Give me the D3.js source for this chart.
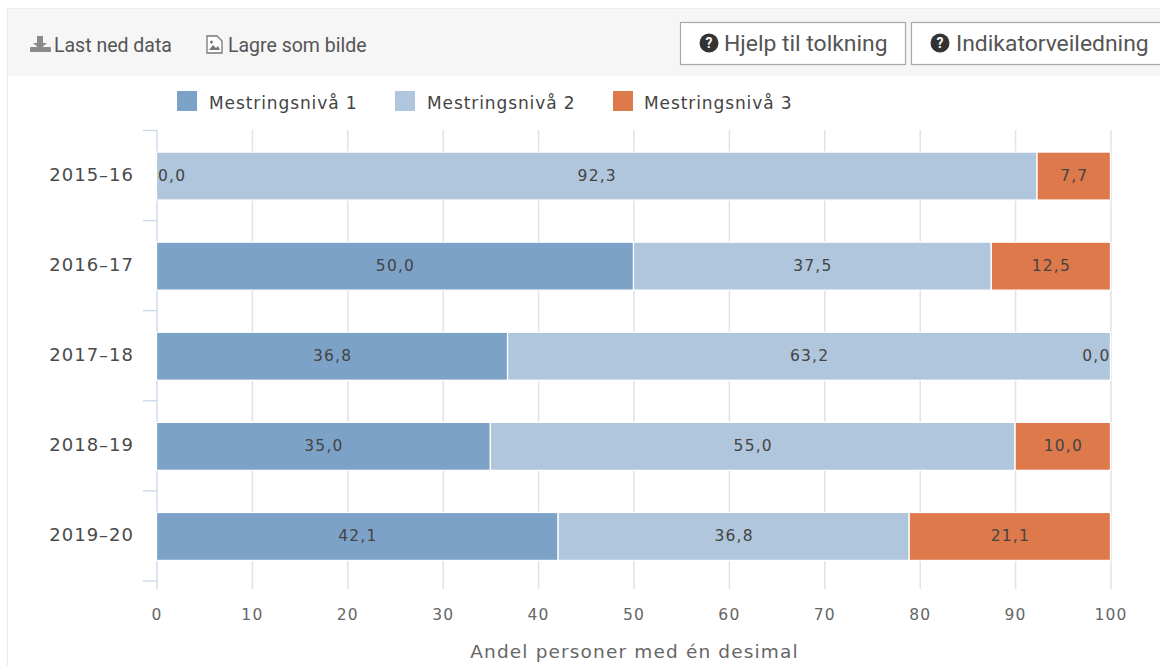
<!DOCTYPE html>
<html><head><meta charset="utf-8">
<script src="https://cdn.jsdelivr.net/npm/d3@7/dist/d3.min.js"></script>
<style>html,body{margin:0;padding:0;background:#fff;overflow:hidden}svg{display:block}</style>
</head><body><svg id="c" width="1160" height="666"></svg>
<script>
const categories = ["2015-16","2016-17","2017-18","2018-19","2019-20"];
const seriesNames = ["Mestringsnivå 1","Mestringsnivå 2","Mestringsnivå 3"];
const level1 = [0.0,50.0,36.8,35.0,42.1];
const level2 = [92.3,37.5,63.2,55.0,36.8];
const level3 = [7.7,12.5,0.0,10.0,21.1];
const colors = ["#7da2c8","#afc6dc","#dd794b"];
const xTicks = [0,10,20,30,40,50,60,70,80,90,100];
const xTitle = "Andel personer med én desimal";
const toolbarLeft = ["Last ned data","Lagre som bilde"];
const toolbarRight = ["Hjelp til tolkning","Indikatorveiledning"];

const svg = d3.select("#c");
const chartFont = "'DejaVu Sans',sans-serif", uiFont = "Roboto,sans-serif";

// panel frame and toolbar
svg.append("rect").attr("x",7).attr("y",9).attr("width",1153).attr("height",67).attr("fill","#f6f6f6");
svg.append("path").attr("d","M7.5,666V8.5H1160").attr("fill","none").attr("stroke","#ececec");

// download icon
const dl = svg.append("g").attr("transform","translate(30,36)").attr("fill","#8a8a8a");
dl.append("path").attr("d","M7,0h6v7h4l-7,6l-7,-6h4z");
dl.append("rect").attr("x",0).attr("y",11).attr("width",21).attr("height",5).attr("rx",1);
// image icon
const im = svg.append("g").attr("transform","translate(206,35)");
im.append("path").attr("d","M1,1H11L16,6V18H1Z").attr("fill","#fff").attr("stroke","#777").attr("stroke-width",1.3);
im.append("path").attr("d","M3,15L7,10L10,13L12,11L14,15Z").attr("fill","#777");
im.append("circle").attr("cx",5.5).attr("cy",7).attr("r",1.5).attr("fill","#777");

svg.append("text").attr("x",54).attr("y",52).text(toolbarLeft[0]);
svg.append("text").attr("x",228).attr("y",52).text(toolbarLeft[1]);
svg.selectAll("text").attr("font-family",uiFont).attr("font-size",19.5).attr("fill","#555");

// buttons
const btns = [{x:680,w:225,tx:724,ix:709},{x:911,w:260,tx:956,ix:940}];
btns.forEach((b,i)=>{
  svg.append("rect").attr("x",b.x+.5).attr("y",22.5).attr("width",b.w).attr("height",42).attr("fill","#fff").attr("stroke","#a8a8a8").attr("stroke-width",1.2);
  svg.append("circle").attr("cx",b.ix).attr("cy",43).attr("r",9.5).attr("fill","#333");
  svg.append("text").attr("x",b.ix).attr("y",48).attr("text-anchor","middle").attr("font-family",uiFont).attr("font-weight",700).attr("font-size",14).attr("fill","#f6f6f6").text("?");
  svg.append("text").attr("x",b.tx).attr("y",51).attr("font-family",uiFont).attr("font-size",22.9).attr("fill","#555").text(toolbarRight[i]);
});

// scales
const x = d3.scaleLinear().domain([0,100]).range([157,1111]);
const y = d3.scaleBand().domain(categories).range([130.5,581]);

// grid
svg.append("g").selectAll("line").data(xTicks.slice(1)).join("line")
  .attr("x1",d=>x(d)).attr("x2",d=>x(d)).attr("y1",130).attr("y2",589)
  .attr("stroke","#e2e2e2").attr("stroke-width",1.5);

// y axis
const yAxis = svg.append("g");
yAxis.append("line").attr("x1",157).attr("x2",157).attr("y1",130).attr("y2",589).attr("stroke","#ccd6eb").attr("stroke-width",1.3);
yAxis.selectAll(".t").data(d3.range(categories.length+1)).join("line")
  .attr("x1",143).attr("x2",157)
  .attr("y1",i=>y.range()[0]+i*y.step()).attr("y2",i=>y.range()[0]+i*y.step())
  .attr("stroke","#ccd6eb").attr("stroke-width",1.3);
svg.append("g").selectAll("text").data(categories).join("text")
  .attr("x",134).attr("y",d=>y(d)+y.bandwidth()/2+5.5).attr("text-anchor","end")
  .attr("font-family",chartFont).attr("font-size",18).attr("letter-spacing",1).attr("fill","#4a4a4a")
  .text(d=>d.replace("-","–"));

// stacked bars
const rows = categories.map((c,i)=>({cat:c,s0:level1[i],s1:level2[i],s2:level3[i]}));
const stack = d3.stack().keys(["s0","s1","s2"])(rows);
const barH = 48;
const fmt = v=>v.toFixed(1).replace(".",",");
stack.forEach((layer,k)=>{
  svg.append("g").selectAll("rect").data(layer).join("rect")
    .attr("x",d=>x(d[0])-.5).attr("width",d=>x(d[1])-x(d[0]))
    .attr("y",d=>y(d.data.cat)+y.bandwidth()/2-barH/2+.5).attr("height",barH)
    .attr("fill",colors[k]).attr("stroke","#fff").attr("stroke-width",1.3)
    .attr("display",d=>d[1]>d[0]?null:"none");
});
stack.forEach((layer,k)=>{
  svg.append("g").selectAll("text").data(layer).join("text")
    .attr("x",d=>{
      const v=d[1]-d[0];
      if(v===0) return k===0?x(d[0])+1:x(d[1])-.5;
      return x((d[0]+d[1])/2);
    })
    .attr("text-anchor",d=>{
      const v=d[1]-d[0];
      return v===0?(k===0?"start":"end"):"middle";
    })
    .attr("y",d=>y(d.data.cat)+y.bandwidth()/2+5)
    .attr("font-family",chartFont).attr("font-size",15.5).attr("letter-spacing",1.2).attr("fill","#444")
    .text(d=>fmt(d[1]-d[0]));
});

// x axis labels
svg.append("g").selectAll("text").data(xTicks).join("text")
  .attr("x",d=>x(d)).attr("y",620).attr("text-anchor","middle")
  .attr("font-family",chartFont).attr("font-size",15.5).attr("letter-spacing",1.2).attr("fill","#666").text(d=>d);
svg.append("text").attr("x",634.5).attr("y",658).attr("text-anchor","middle")
  .attr("font-family",chartFont).attr("font-size",18.5).attr("letter-spacing",1.15).attr("fill","#666").text(xTitle);

// legend
const lx=[177,395,613], tx=[209,427,644];
seriesNames.forEach((n,i)=>{
  svg.append("rect").attr("x",lx[i]).attr("y",91).attr("width",20).attr("height",20).attr("fill",colors[i]);
  svg.append("text").attr("x",tx[i]).attr("y",109).attr("font-family",chartFont).attr("font-size",17).attr("letter-spacing",.9).attr("fill","#444").text(n);
});
</script></body></html>
